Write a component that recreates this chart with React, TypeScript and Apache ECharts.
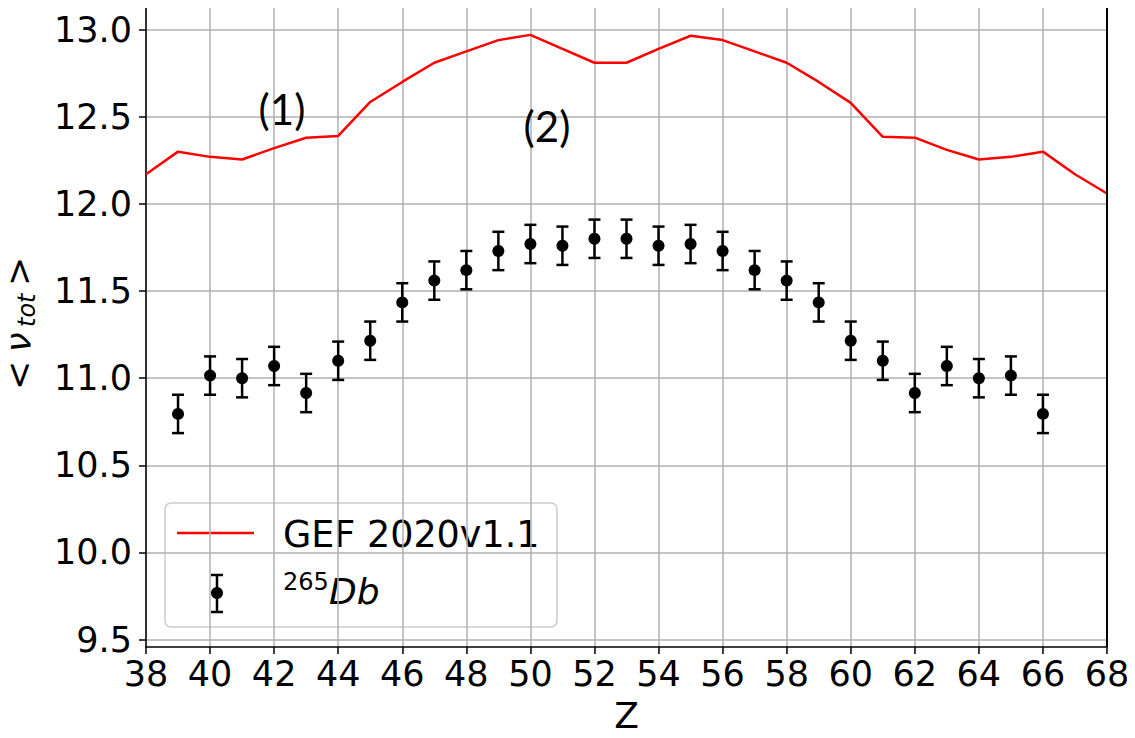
import React, { useEffect, useRef } from "react";
import * as echarts from "echarts";

// ---- data ----
const lineZ = [38, 39, 40, 41, 42, 43, 44, 45, 46, 47, 48, 49, 50, 51, 52, 53, 54, 55, 56, 57, 58, 59, 60, 61, 62, 63, 64, 65, 66, 67, 68];
const gefValues = [12.17, 12.30, 12.27, 12.255, 12.32, 12.38, 12.39, 12.585, 12.70, 12.81, 12.875, 12.94, 12.97, 12.89, 12.81, 12.81, 12.89, 12.965, 12.94, 12.875, 12.81, 12.70, 12.58, 12.385, 12.38, 12.31, 12.255, 12.27, 12.30, 12.17, 12.06];

const dbZ = [39, 40, 41, 42, 43, 44, 45, 46, 47, 48, 49, 50, 51, 52, 53, 54, 55, 56, 57, 58, 59, 60, 61, 62, 63, 64, 65, 66];
const dbValues = [10.795, 11.015, 11.0, 11.07, 10.915, 11.10, 11.215, 11.435, 11.56, 11.62, 11.73, 11.77, 11.76, 11.80, 11.80, 11.76, 11.77, 11.73, 11.62, 11.56, 11.435, 11.215, 11.10, 10.915, 11.07, 11.0, 11.015, 10.795];
const dbErrors = [0.11, 0.11, 0.11, 0.11, 0.11, 0.11, 0.11, 0.11, 0.11, 0.11, 0.11, 0.11, 0.11, 0.11, 0.11, 0.11, 0.11, 0.11, 0.11, 0.11, 0.11, 0.11, 0.11, 0.11, 0.11, 0.11, 0.11, 0.11];

const yTicks = [9.5, 10.0, 10.5, 11.0, 11.5, 12.0, 12.5, 13.0];
const xTicksInterval = 2;

const legendLabels = ["GEF 2020v1.1", "265", "Db"];
const annotations = ["(1)", "(2)"];

const FONT = "DejaVu Sans";
const X_MIN = 38;
const X_MAX = 68;
const Y_MIN = 9.4575;
const Y_MAX = 13.13;

const GRID = { left: 146, right: 28, top: 7, bottom: 91 };
const W = 1135;
const H = 738;

export default function App() {
  const ref = useRef<HTMLDivElement>(null);

  useEffect(() => {
    if (!ref.current) return;
    const chart = echarts.init(ref.current, null, { renderer: "svg" });

    const x0 = GRID.left;
    const x1 = W - GRID.right;
    const y0 = GRID.top;
    const y1 = H - GRID.bottom;
    const spine = { stroke: "#000000", lineWidth: 2 };

    const option: any = {
      animation: false,
      backgroundColor: "#ffffff",
      grid: { ...GRID, show: false, containLabel: false, outerBoundsMode: "none" },
      xAxis: {
        type: "value",
        min: X_MIN,
        max: X_MAX,
        interval: xTicksInterval,
        name: "Z",
        nameLocation: "middle",
        nameGap: 50,
        nameTextStyle: { fontFamily: FONT, fontSize: 36, color: "#000" },
        axisLine: { show: true, lineStyle: { color: "#000", width: 1.5 } },
        axisTick: { show: true, length: 7, lineStyle: { color: "#000", width: 1.5 } },
        axisLabel: {
          fontFamily: FONT,
          fontSize: 35,
          color: "#000",
          margin: 9,
          formatter: (v: number) => String(Math.round(v)),
        },
        splitLine: { show: true, lineStyle: { color: "#b0b0b0", width: 1.5 } },
      },
      yAxis: {
        type: "value",
        min: Y_MIN,
        max: Y_MAX,
        axisLine: { show: true, lineStyle: { color: "#000", width: 1.5 } },
        axisTick: {
          show: true,
          length: 7,
          customValues: yTicks,
          lineStyle: { color: "#000", width: 1.5 },
        },
        axisLabel: {
          fontFamily: FONT,
          fontSize: 35,
          color: "#000",
          margin: 14,
          customValues: yTicks,
          formatter: (v: number) => v.toFixed(1),
        },
        splitLine: { show: true, lineStyle: { color: "#b0b0b0", width: 1.5 } },
      },
      series: [
        {
          name: legendLabels[0],
          type: "line",
          data: lineZ.map((z, i) => [z, gefValues[i]]),
          showSymbol: false,
          symbol: "none",
          lineStyle: { color: "#ff0000", width: 2.5 },
          z: 3,
        },
        {
          name: "errors",
          type: "custom",
          data: dbZ.map((z, i) => [z, dbValues[i], dbErrors[i]]),
          encode: { x: 0, y: 1 },
          renderItem: (params: any, api: any) => {
            const x = api.value(0);
            const y = api.value(1);
            const e = api.value(2);
            const top = api.coord([x, y + e]);
            const bot = api.coord([x, y - e]);
            const st = { stroke: "#000", lineWidth: 2.5 };
            return {
              type: "group",
              children: [
                { type: "line", shape: { x1: top[0], y1: top[1], x2: bot[0], y2: bot[1] }, style: st },
                { type: "line", shape: { x1: top[0] - 6, y1: top[1], x2: top[0] + 6, y2: top[1] }, style: st },
                { type: "line", shape: { x1: bot[0] - 6, y1: bot[1], x2: bot[0] + 6, y2: bot[1] }, style: st },
              ],
            };
          },
          z: 4,
        },
        {
          name: "Db",
          type: "scatter",
          data: dbZ.map((z, i) => [z, dbValues[i]]),
          symbol: "circle",
          symbolSize: 12,
          itemStyle: { color: "#000", opacity: 1 },
          z: 5,
        },
      ],
      graphic: {
        elements: [
          // top and right spines of the plot frame
          { type: "line", id: "spineTop", z: 60, silent: true, shape: { x1: x0, y1: y0, x2: x1, y2: y0 }, style: spine },
          { type: "line", id: "spineRight", z: 60, silent: true, shape: { x1: x1, y1: y0, x2: x1, y2: y1 }, style: spine },
          // y-axis title "< ν_tot >" rotated
          {
            type: "group",
            x: 0,
            y: 387,
            rotation: Math.PI / 2,
            z: 50,
            children: [
              { type: "text", x: -3, y: 19, style: { text: "<", fontFamily: FONT, fontSize: 35, fill: "#000", verticalAlign: "middle", align: "left" } },
              { type: "text", x: 35, y: 19, style: { text: "ν", fontFamily: FONT, fontStyle: "italic", fontSize: 35, fill: "#000", verticalAlign: "middle", align: "left" } },
              { type: "text", x: 60, y: 27, style: { text: "tot", fontFamily: FONT, fontStyle: "italic", fontSize: 24, fill: "#000", verticalAlign: "middle", align: "left" } },
              { type: "text", x: 101, y: 19, style: { text: ">", fontFamily: FONT, fontSize: 35, fill: "#000", verticalAlign: "middle", align: "left" } },
            ],
          },
          // annotations
          { type: "text", x: 282, y: 109, z: 50, style: { text: annotations[0], fontFamily: "Lato", fontSize: 42, fill: "#000", align: "center", verticalAlign: "middle" } },
          { type: "text", x: 547, y: 126, z: 50, style: { text: annotations[1], fontFamily: "Lato", fontSize: 42, fill: "#000", align: "center", verticalAlign: "middle" } },
          // legend
          {
            type: "group",
            z: 100,
            children: [
              { type: "rect", shape: { x: 165, y: 503, width: 392, height: 124, r: 6 }, style: { fill: "rgba(255,255,255,0.8)", stroke: "#cccccc", lineWidth: 1.5 } },
              { type: "line", shape: { x1: 177, y1: 533, x2: 254, y2: 533 }, style: { stroke: "#ff0000", lineWidth: 2.5 } },
              { type: "text", x: 283, y: 534, style: { text: legendLabels[0], fontFamily: FONT, fontSize: 36.5, fill: "#000", verticalAlign: "middle", align: "left" } },
              { type: "line", shape: { x1: 217, y1: 575, x2: 217, y2: 612 }, style: { stroke: "#000", lineWidth: 2.5 } },
              { type: "line", shape: { x1: 211, y1: 575, x2: 223, y2: 575 }, style: { stroke: "#000", lineWidth: 2.5 } },
              { type: "line", shape: { x1: 211, y1: 612, x2: 223, y2: 612 }, style: { stroke: "#000", lineWidth: 2.5 } },
              { type: "circle", shape: { cx: 217, cy: 593, r: 6 }, style: { fill: "#000" } },
              { type: "text", x: 283, y: 582, style: { text: legendLabels[1], fontFamily: FONT, fontSize: 24, fill: "#000", verticalAlign: "middle", align: "left" } },
              { type: "text", x: 329, y: 591, style: { text: legendLabels[2], fontFamily: FONT, fontStyle: "italic", fontSize: 36, fill: "#000", verticalAlign: "middle", align: "left" } },
            ],
          },
        ],
      },
    };

    chart.setOption(option);
    return () => chart.dispose();
  }, []);

  return <div ref={ref} style={{ width: W, height: H, margin: -8 }} />;
}
